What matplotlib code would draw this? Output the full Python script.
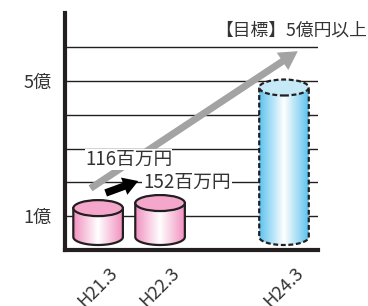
import numpy as np
import matplotlib
matplotlib.use("Agg")
import matplotlib.pyplot as plt
from matplotlib.path import Path
from matplotlib.patches import PathPatch, Ellipse
from matplotlib.colors import LinearSegmentedColormap

plt.rcParams["font.family"] = ["Noto Sans CJK JP", "DejaVu Sans"]

# データ
labels = ["H21.3", "H22.3", "H24.3"]
xpos = [0, 1, 3]
heights = [1.24, 1.39, 4.81]          # 円柱の上面（億）
amounts = ["116百万円", "152百万円"]
target = "【目標】5億円以上"
yticks = [1, 2, 3, 4, 5, 6]
yticklabels = ["1億", "", "", "", "5億", ""]

pink = LinearSegmentedColormap.from_list("pink", ["#f190bf", "#ffffff", "#f190bf"])
blue = LinearSegmentedColormap.from_list("blue", ["#5cc2ee", "#ffffff", "#5cc2ee"])

base = 0.385   # 底面の中心
w = 0.8        # 円柱の幅
eh = 0.237     # 楕円の半高さ
dark = "#231f20"


def cylinder(ax, x, top, cmap, topcolor, ls):
    t = np.linspace(np.pi, 2 * np.pi, 40)
    bx = x + w / 2 * np.cos(t)
    by = base + eh * np.sin(t)
    verts = [(x - w / 2, top)] + list(zip(bx, by)) + [(x + w / 2, top), (x - w / 2, top)]
    body = Path(verts, closed=True)
    clip = PathPatch(body, facecolor="none", edgecolor="none")
    ax.add_patch(clip)
    grad = np.linspace(0, 1, 100).reshape(1, -1)
    im = ax.imshow(grad, cmap=cmap, extent=[x - w / 2, x + w / 2, base - eh, top],
                   aspect="auto", zorder=2)
    im.set_clip_path(clip)
    ax.add_patch(PathPatch(body, facecolor="none", edgecolor=dark, lw=1.6,
                           linestyle=ls, zorder=3))
    ax.add_patch(Ellipse((x, top), w, 2 * eh, facecolor=topcolor, edgecolor=dark,
                         lw=1.6, linestyle=ls, zorder=3))


fig = plt.figure(figsize=(3.68, 3.06), dpi=100)
ax = fig.add_axes([0.177, 0.183, 0.687, 0.775])

cylinder(ax, xpos[0], heights[0], pink, "#f4a6cb", "-")
cylinder(ax, xpos[1], heights[1], pink, "#f4a6cb", "-")
cylinder(ax, xpos[2], heights[2], blue, "#c6e9f8", (0, (2.2, 1.2)))

ax.set_xlim(-0.532, 3.548)
ax.set_ylim(0, 7.02)

ax.set_yticks(yticks)
ax.set_yticklabels(yticklabels)
ax.yaxis.grid(True, color=dark, lw=1.0)
ax.set_axisbelow(True)
ax.set_xticks(xpos)
ax.set_xticklabels(labels, rotation=45, ha="center", va="top")
ax.tick_params(axis="both", length=0, labelsize=13, colors="#333333")
ax.tick_params(axis="y", pad=10)
ax.tick_params(axis="x", pad=10)

for s in ["top", "right"]:
    ax.spines[s].set_visible(False)
for s in ["left", "bottom"]:
    ax.spines[s].set_linewidth(3)
    ax.spines[s].set_color(dark)

# 矢印
ax.annotate("", xy=(3.26, 5.93), xytext=(-0.16, 1.78),
            arrowprops=dict(arrowstyle="simple,head_length=1.1,head_width=1.25,tail_width=0.42",
                            mutation_scale=12, color="#a3a3a3", lw=0), zorder=4)
ax.annotate("", xy=(0.69, 2.07), xytext=(0.08, 1.66),
            arrowprops=dict(arrowstyle="simple,head_length=0.9,head_width=1.1,tail_width=0.45",
                            mutation_scale=12, color="black", lw=0), zorder=5)

ax.text(-0.21, 2.67, amounts[0], ha="left", va="center", fontsize=13.5, color="#333333",
        bbox=dict(facecolor="white", edgecolor="none", pad=0), zorder=6)
ax.text(0.73, 2.01, amounts[1], ha="left", va="center", fontsize=13.5, color="#333333",
        bbox=dict(facecolor="white", edgecolor="none", pad=1), zorder=6)

fig.text(367 / 368, 1 - 31 / 306, target, ha="right", va="center", fontsize=12.8,
         color="#333333")

fig.savefig("out.png", dpi=100)
